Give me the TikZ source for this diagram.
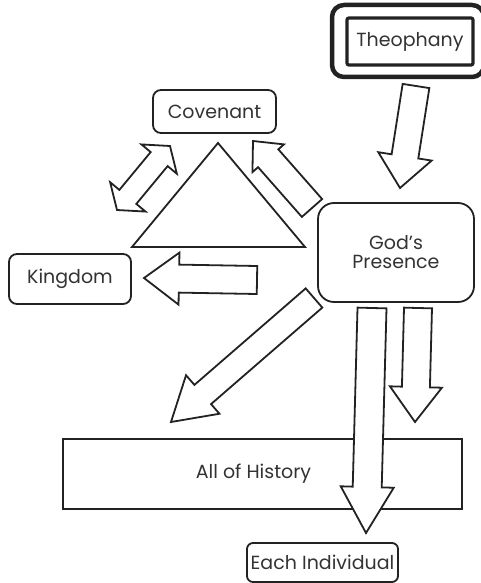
\documentclass[tikz,border=0pt]{standalone}
\usepackage{fontspec}
\setmainfont{Poppins}
\usetikzlibrary{calc}
\definecolor{ink}{HTML}{222222}
\definecolor{txt}{HTML}{333333}
\tikzset{
  blk/.style={draw=ink, line width=1.8pt, fill=white, line join=miter},
  rbox/.style={draw=ink, line width=1.8pt, rounded corners=8pt, fill=white, inner sep=0pt},
  lbl/.style={font=\fontsize{19}{22}\selectfont, text=txt, align=center},
}
\newcommand\blockarrow[5]{% tail, tip, half body, half head, head length
  \coordinate (hb) at ($(#2)!#5!(#1)$);
  \draw[blk] ($(#1)!#3!90:(#2)$) -- ($(hb)!#3!-90:(#1)$) -- ($(hb)!#4!-90:(#1)$) -- (#2)
    -- ($(hb)!#4!90:(#1)$) -- ($(hb)!#3!90:(#1)$) -- ($(#1)!#3!-90:(#2)$) -- cycle;
}
\newcommand\dblarrow[5]{% tip A, tip B, half body, half head, head length
  \coordinate (ha) at ($(#1)!#5!(#2)$);
  \coordinate (hb) at ($(#2)!#5!(#1)$);
  \draw[blk] (#1) -- ($(ha)!#4!90:(#2)$) -- ($(ha)!#3!90:(#2)$) -- ($(hb)!#3!-90:(#1)$)
    -- ($(hb)!#4!-90:(#1)$) -- (#2) -- ($(hb)!#4!90:(#1)$) -- ($(hb)!#3!90:(#1)$)
    -- ($(ha)!#3!-90:(#2)$) -- ($(ha)!#4!-90:(#2)$) -- cycle;
}
\begin{document}
\begin{tikzpicture}[x=1pt,y=-1pt]
\useasboundingbox[fill=white] (0,0) rectangle (480,583);

% boxes
\node[draw=ink, line width=4.5pt, rounded corners=12pt, minimum width=152pt, minimum height=72pt] (theoOuter) at (408,41) {};
\node[draw=ink, line width=3.2pt, rounded corners=2pt, minimum width=126pt, minimum height=47pt, lbl] (theo) at (410,41.5) {Theophany};
\node[rbox, minimum width=123pt, minimum height=43pt, lbl] (cov) at (214.5,111.5) {Covenant};
\node[rbox, minimum width=122pt, minimum height=50pt, lbl] (king) at (70,279) {Kingdom};
\node[rbox, rounded corners=16pt, minimum width=156pt, minimum height=99pt, lbl] (god) at (396,252.5) {God’s\\[-3pt]Presence};
\node[draw=ink, line width=1.8pt, minimum width=399pt, minimum height=70pt, lbl, fill=white] (hist) at (262.5,474) {\hspace*{-18pt}All of History};
\node[rbox, rounded corners=6pt, minimum width=151pt, minimum height=39pt, lbl] (each) at (322.5,562.5) {Each Individual};

% triangle
\coordinate (triA) at (218,143);
\coordinate (triB) at (132,247);
\coordinate (triC) at (305,247);
\draw[blk] (triA) -- (triB) -- (triC) -- cycle;

% arrow end points
\coordinate (t1) at (416,86);  \coordinate (p1) at (400,188);
\coordinate (t2) at (312,208); \coordinate (p2) at (253,141);
\coordinate (d1) at (117,210); \coordinate (d2) at (170,146);
\coordinate (t4) at (257,280); \coordinate (p4) at (144,278);
\coordinate (t5) at (314,298); \coordinate (p5) at (171,422);
\coordinate (t6) at (372,308); \coordinate (p6) at (366,533);
\coordinate (t7) at (418,308); \coordinate (p7) at (415,422);

\blockarrow{t1}{p1}{13.5pt}{27pt}{32pt}
\blockarrow{t2}{p2}{13.5pt}{21pt}{23pt}
\dblarrow{d1}{d2}{11pt}{23pt}{17pt}
\blockarrow{t4}{p4}{14pt}{26pt}{35pt}
\blockarrow{t5}{p5}{12.7pt}{25.5pt}{42pt}
\blockarrow{t7}{p7}{14pt}{26pt}{35pt}
\blockarrow{t6}{p6}{14.5pt}{26.5pt}{46pt}
\end{tikzpicture}
\end{document}
